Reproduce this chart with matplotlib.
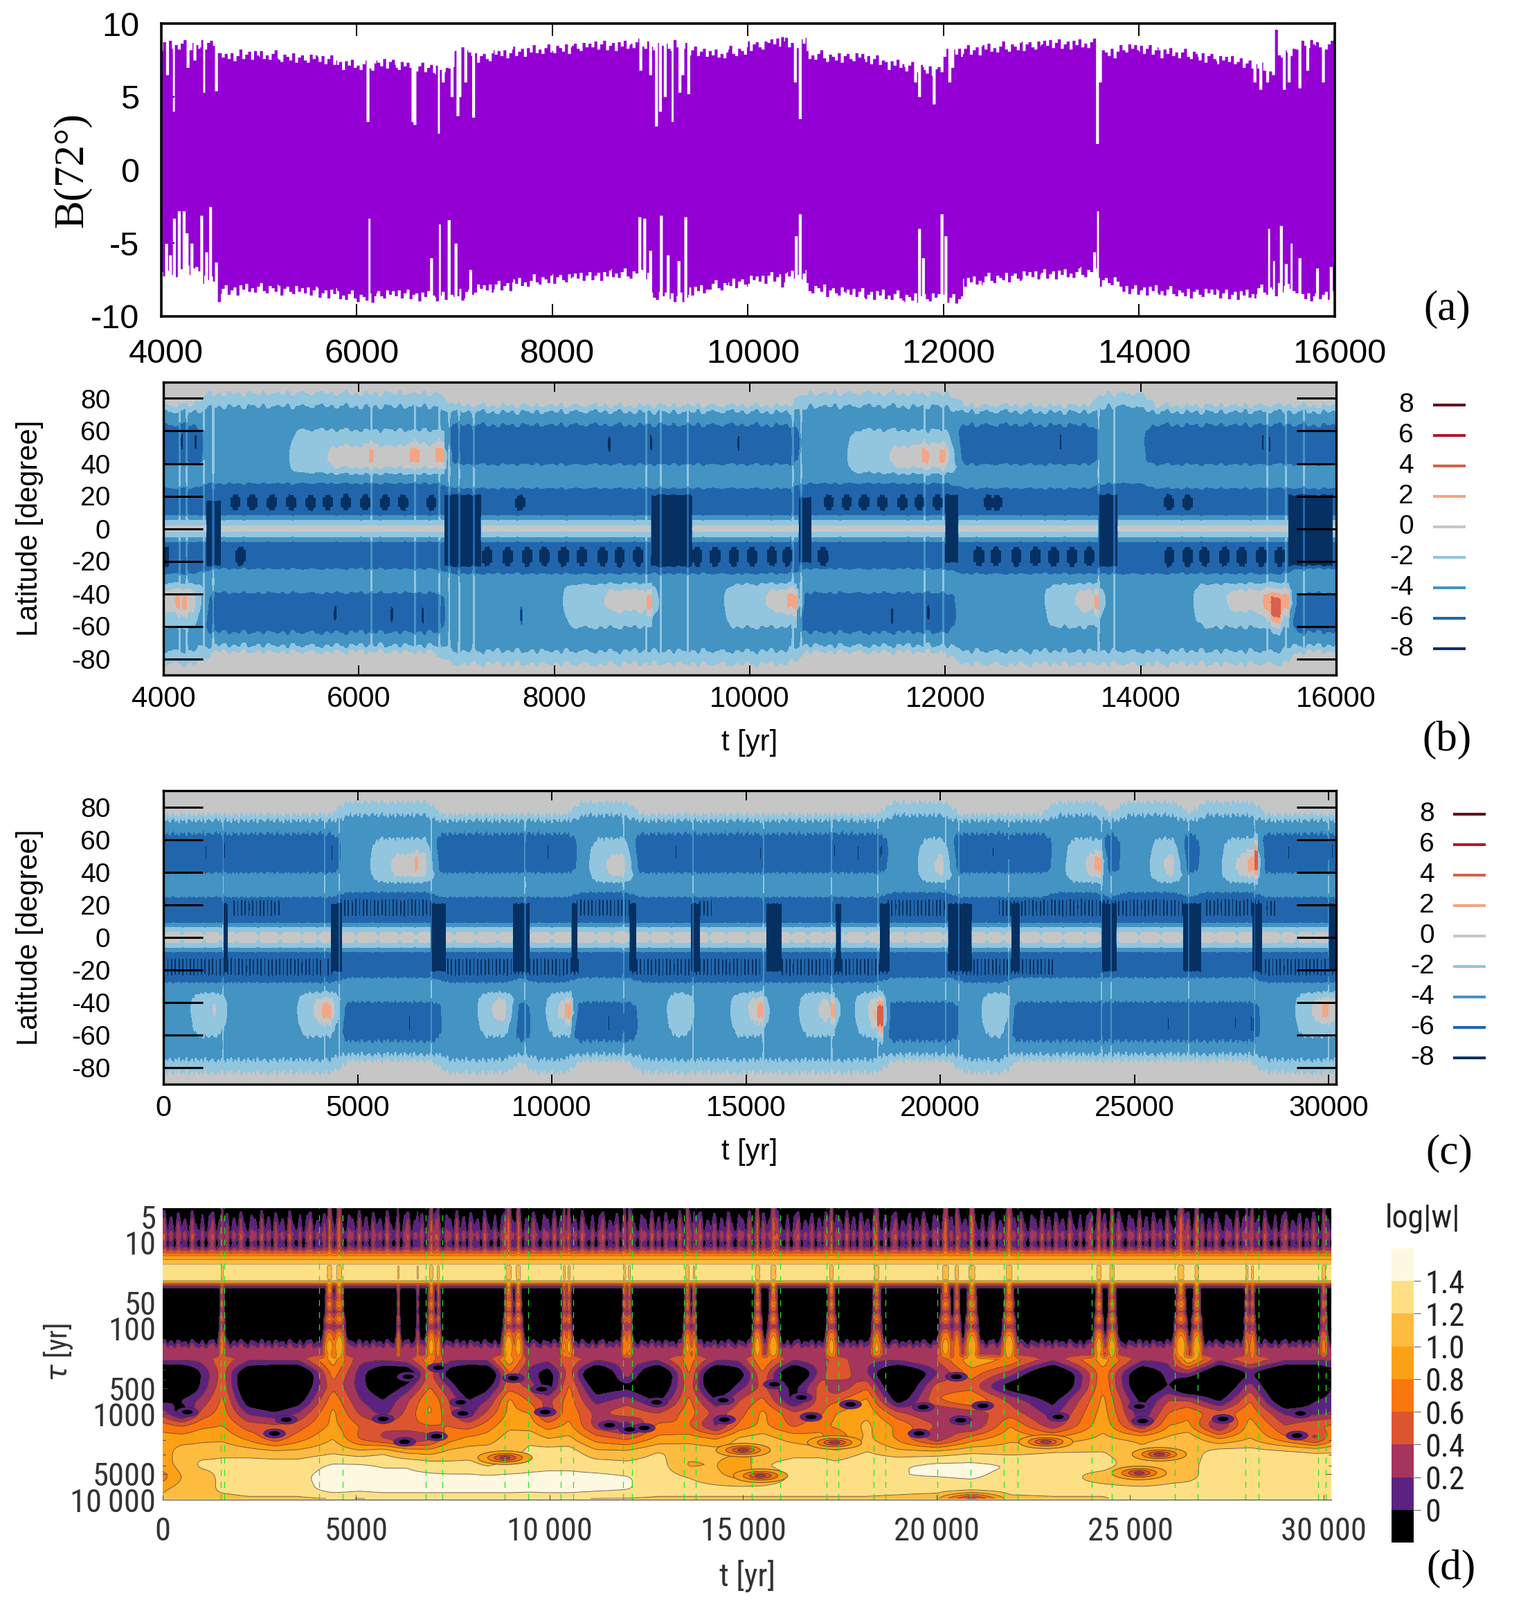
import numpy as np
import matplotlib
matplotlib.use("Agg")
import matplotlib.pyplot as plt
import matplotlib.font_manager as fm
from matplotlib.colors import ListedColormap
from matplotlib.lines import Line2D
from matplotlib.path import Path
from matplotlib.transforms import Affine2D, ScaledTranslation

plt.rcParams['axes.unicode_minus'] = False
W, H = 2197, 2311
SANS = ['Liberation Sans', 'DejaVu Sans']
SERIF = ['Liberation Serif', 'DejaVu Serif']
_installed = {f.name for f in fm.fontManager.ttflist}
_narrow = [n for n in ['Liberation Sans Narrow', 'Roboto Condensed', 'Open Sans Condensed', 'Noto Sans Condensed', 'DejaVu Sans Condensed'] if n in _installed]
NARROW = (_narrow[:1] or []) + SANS
NARROW_SCALE = 1.0 if _narrow else 0.86

# ---------- panel (a) ----------
a_top = [8.5,8.5,8.6,7.7,7.9,7.8,7.7,7.6,7.5,7.2,7.1,7.3,7.1,7.0,6.9,8.0,7.7,7.9,8.1,8.2,8.3,8.4,8.5,8.5,8.6,8.4,8.4,8.1,7.9,8.1,
         8.5,8.7,8.7,7.8,7.7,7.7,7.5,7.2,7.0,6.8,8.0,8.2,8.3,8.4,8.5,8.6,8.6,8.6,8.0,8.3,8.2,8.0,7.9,7.7,7.5,7.3,7.0,8.0,8.6,8.5]
a_bot = [-7,-6.8,-7.5,-8.2,-8.1,-8.1,-8.2,-8.3,-8.4,-8.6,-8.7,-8.5,-8.5,-8.6,-8.7,-8.4,-8.1,-7.9,-7.7,-7.5,-7.4,-7.3,-7.2,-7.1,-7.1,-8.6,-8.7,-8.2,-7.9,-7.7,
         -7.5,-7.3,-7.2,-8.1,-8.3,-8.4,-8.5,-8.6,-8.7,-8.7,-8.8,-7.6,-7.4,-7.3,-7.2,-7.1,-7.1,-7.0,-7.6,-8.2,-8.2,-8.3,-8.4,-8.4,-8.5,-8.5,-8.2,-8.0,-8.7,-8.5]
a_jag = [.25,-.1,.3,-.25,.1,.35,-.3,0,.2,-.35,.25,-.05,.35,-.2,.05,-.25,.15,.4,-.15,-.3,.2,.05,-.2,.3,-.35,.1,.25,-.1,-.25,.3,.0]
a_notch_top_t = [4124,4437,4560,6110,6570,6590,6835,6970,7030,7190,9060,9225,9390,10530,11750,11900,13570,15310,15480,
                 4060,4270,4340,6880,6920,7060,7110,8900,9000,9100,9150,9300,9330,10480,11710,12060,12090,13600,15180,15240,15370,15530,15640,15720,15880]
a_notch_top_v = [4.0,5.3,5.4,3.3,3.3,3.1,2.5,5.0,3.7,3.6,3.0,3.3,5.2,3.5,5.0,4.5,1.8,6.0,5.5,
                 6.5,7.0,7.5,6.0,7.0,5.0,6.0,6.8,6.5,4.0,5.0,5.3,6.5,6.0,6.0,6.0,7.0,6.0,6.0,5.5,6.5,6.0,5.6,6.8,6.0]
a_notch_bot_t = [4130,4180,4230,4310,4360,4410,4500,4560,6125,6845,6940,8890,8940,9110,9360,10530,11750,11980,13575,15325,15450,15555,
                 4050,4090,4260,4460,6760,7010,7160,9000,9180,9290,10490,11790,12020,13540,15380,15500,15640,15820,15960]
a_notch_bot_v = [-3.3,-2.8,-2.8,-5.0,-6.6,-3.1,-2.5,-6.3,-3.3,-3.7,-3.4,-3.2,-3.3,-3.1,-3.2,-3.0,-4.0,-3.0,-2.8,-4.0,-3.8,-5.0,
                 -5.0,-5.8,-4.3,-5.6,-6.0,-5.0,-6.8,-5.5,-5.8,-6.2,-4.5,-6.0,-4.5,-5.6,-6.2,-6.4,-6.0,-6.7,-6.6]
a_spike_t = [4590,7080,10350,15400,9250]
a_spike_top = [8.0,8.4,9.1,9.6,8.9]
a_spike_bot = [-9.0,-8.9,-8.0,-8.6,-9.0]

# ---------- panels (b), (c): hemispheric latitude profiles ----------
lat_h = [0,1.5,3,5,6.5,8,10,12,14,16,18,20,22,25,28,31,35,38,42,46,50,55,60,64,68,72,76,80,84,95]
prof_D  = [-.5,-.9,-2,-3,-4,-5,-6,-6,-6,-6,-6.2,-6.1,-6,-5,-4.3,-4,-4,-4.6,-6,-6.1,-6.3,-6.3,-6,-5,-4,-3,-1,-.6,-.4,-.2]
prof_L0 = [-.5,-.9,-2,-3,-4,-5,-6,-6.2,-6.3,-6.3,-6.4,-6.4,-6.3,-6,-5,-4.2,-4,-4,-4,-4,-4,-4,-4,-4,-4,-3.6,-2.9,-1.6,-.9,-.2]
prof_L1 = [-.5,-.9,-2,-3,-4,-5,-6,-6.2,-6.3,-6.3,-6.4,-6.4,-6.3,-6,-5,-4.2,-2.8,-2.1,-1.8,-1.8,-2,-2.3,-2.9,-4,-4,-3.6,-2.9,-1.6,-.9,-.2]
prof_L2 = [-.5,-.9,-2,-3,-4,-5,-6,-6.2,-6.3,-6.3,-6.4,-6.4,-6.3,-6,-5,-4,-2.6,-.95,-.6,-.6,-.9,-1.9,-2.9,-4,-4,-3.6,-2.9,-1.6,-.9,-.2]
prof_L3 = [-.5,-.9,-2,-3,-4,-5,-6,-6.2,-6.3,-6.3,-6.4,-6.4,-6.3,-6,-5,-4,-2.4,-.5,1.6,2.6,.3,-1.8,-3,-4,-4,-3.6,-2.9,-1.6,-.9,-.2]
prof_L4 = [-.5,-.9,-2,-3,-4,-5,-6,-6.2,-6.3,-6.3,-6.4,-6.4,-6.3,-6,-5,-4,-2,0,3,4.5,4.6,2.2,-1,-3,-4,-3.6,-2.9,-1.6,-.9,-.2]
c_equator = [-.3,-.55,-.8,-2.2,-3.2,-4.4]
c_blob = [0,0,-.1,-.5,0,.05,0,-.45,0,0,-.5,0,.05,-.4,0,0,-.1,-.5]
ripple = [.9,-.3,.5,-.8,.2,1,-.6,.1,-.9,.7,-.2,.4,-1,.6,.3,-.5,.8,-.7,0,.5,-.4,.9,-.9,.2,.6,-.1,-.6,.4]

b_n_start = [4000,4400,5300,5650,6110,6150,6530,6620,6790,6875,10500,11008,11400,11770,11830,11950,12000,12100,13560,14050]
b_n_state = [0,1,2,3,4,3,4,3,4,0,1,2,3,4,3,4,3,0,1,0]
b_s_start = [4000,4130,4170,4200,4240,4400,6875,8100,8480,8950,9000,9750,10130,10390,10480,12100,13030,13300,13530,13570,14550,14850,15260,15340,15430,15520]
b_s_state = [3,4,3,4,3,0,1,2,3,4,1,2,3,4,0,1,2,3,4,1,2,3,4,5,4,0]
b_n_beads = [4736,4910,5110,5308,5507,5682,5866,6065,6269,6453,6741,10809,10992,11170,11358,11563,11736,11924,12445,12530,7650,14290,14480]
b_s_beads = [4790,7313,7522,7721,7896,8095,8284,8493,8667,8856,9463,9645,9838,10022,10227,10388,10750,12345,12517,12728,12921,13110,13299,13472,14291,14480,14652,14857,15035,15235,15423]
b_beads_w = 55
b_columns_t0 = [4000,4440,6875,8990,10496,12000,13563,15510]
b_columns_t1 = [4060,4590,7250,9413,10631,12135,13767,15968]
b_columns_lo = [-22,-22,-22,-22,-20,-20,-22,-22]
b_columns_hi = [-12,16,20,20,18,20,20,20]
b_streak_t = [4164,4239,4413,4512,6130,6577,6826,6925,7025,7174,8940,9090,9363,10442,10523,11790,11978,13568,13730,15295,15483,15670]
b_spot_n = [4190,4330,8562,8990,9885,13180,15250,15320]
b_spot_s = [5756,6338,6652,7662,11457,11828]

c_n_start = [0,4550,5360,5800,6480,6560,6950,10630,11000,11350,12070,18640,19450,19800,20270,22850,23260,23700,23980,24150,24620,25430,25700,26200,26660,27280,27550,27950,28100,28170]
c_n_state = [0,1,2,3,4,3,0,1,2,3,0,1,2,3,0,1,2,3,4,0,1,2,3,0,1,2,3,4,5,0]
c_s_start = [0,730,1200,1540,3480,3800,4100,4300,4530,7150,8120,8400,9000,9440,9880,10200,10350,10500,12190,13000,13300,13570,14630,15000,15300,15450,16400,16800,17200,17280,17830,18100,18380,18530,20480,21090,21500,21770,28220,29170,29500,29850,30000]
c_s_state = [1,2,3,1,2,3,4,3,0,1,2,3,0,1,2,3,4,0,1,2,3,1,2,3,4,1,2,3,4,1,2,3,5,0,1,2,3,0,1,2,3,4,3]
c_n_train0 = [1800,4550,10630,13800,18640,21500,24200,26840,28400]
c_n_train1 = [3050,6930,12070,14200,20130,24200,26250,28250,28700]
c_s_train0 = [0,7300,12070,15920,20270,22100,28250]
c_s_train1 = [4400,10700,15430,18640,22040,22990,30200]
c_tooth = 48
c_columns_t0 = [1540,4300,6870,9000,10500,12000,13570,15516,17310,18440,20200,21830,24140,26250,28040,30000]
c_columns_t1 = [1670,4610,7280,9440,10670,12190,13820,15924,17450,18710,20820,22060,24550,26730,28290,30200]
c_columns_lo = [-20]*16
c_columns_hi = [20]*16
c_streak_t = [1540,4150,4525,6900,9310,11850,13635,15450,17210,18400,20140,20480,21770,24160,24400,26400,28100,30000]
c_spot_n = [1100,1580,3920,4340,8560,9000,9900,13200,15380,15420,17280,17080,17890,18450,18500,21360,21770,28980,30000,30100]
c_spot_s = [5760,6340,6680,11470,11850,25870,27600,28010,28070]

field_levels = [-9,-7,-5,-3,-1,1,3,5,7,9]
field_colors = ['#053061','#2166ac','#4393c3','#92c5de','#c6c6c6','#f4a582','#d6604d','#b2182b','#67001f']
legend_values = ['8','6','4','2','0','-2','-4','-6','-8']
lat_ticks = [80,60,40,20,0,-20,-40,-60,-80]

# ---------- panel (d) ----------
tau_top = [3.92,4.6,5.3,6.1,7,8,9,10,11,12,12.8,13.5,14.5,15.8,17,18.2,19.5,22,25,27.6,28.6,29.6,30.8,32,33.5,36,44,52,64,78,95,115,135,153,175,200,232]
wave_quiet = [-.3,-.2,-.05,.05,.1,.25,.2,.05,.1,.3,.5,.65,.85,1.0,1.15,1.22,1.3,1.38,1.3,1.22,1.0,.85,.5,.2,.02,-.2,-.4,-.4,-.4,-.4,-.4,-.4,-.1,.1,.3,.33,.05]
wave_amp = [.2,.3,.28,.22,.18,.18,.25,.25,.2,.12,.05]+[0]*21+[.1,.15,.06,0,0]
wave_plume = [.3,.4,.5,.6,.6,.5,.65,.5,.65,.7,.9,.9,.9,1,1.05,1.05,0,0,0,0,1,1,1,.9,.8,.9,.45,.85,.4,.8,.3,.75,.9,1,1,.9,0]
wave_spread = [.5]*20+[.8]*6+[1,1,1,1.2,1.3,1.4,1.5,1.6,1.7,1.7,1.7]
wave_comb = [1,-.6,.4,-1,.8,-.3,.2,-.9,1,-.2,-.7,.6,-1,.5,.9,-.8,.1,-.4,.7,-1,.3,-.5,.9,-.1,-.9,.6,.2,-.7]
plume_taper = [1.0,.85,.6,.25]
event_t = [1537,4310,4560,6090,6590,6940,7125,8940,9190,10375,10500,11940,12060,13560,13730,15370,15780,17280,18450,20230,20520,20910,21870,24190,24530,26310,26720,28020,28160,30000]
event_w = [70,130,140,50,40,110,60,130,110,70,80,70,70,100,60,110,130,120,120,150,100,150,150,110,120,150,120,70,80,90]
event_s = [.7,.9,1,.7,.5,.9,.8,1,.95,.85,.9,.8,.85,.85,.8,.95,1,.9,.85,.9,.8,1,1,.95,.95,1,1,.7,.8,.7]
tau_low = [232,330,465,665,940,1330,1880,2660,3770,5330,7540,9700]
t_low = [0,500,1000,1550,2200,2900,3500,4400,5100,5700,6300,6900,7400,7900,8400,8950,9500,9950,10500,11200,12000,12800,13600,14300,14900,15500,16300,17000,17400,18200,19000,20000,20900,21900,23000,24300,25300,26000,26500,27300,28100,29000,29800,30200]
wave_low = [
 [-.2,-.3,-.3,-.05,.3,.7,.9,.9,.9,.7,1.0,1.0],
 [.05,-.3,-.3,.05,-.1,.6,.9,1.1,1.1,1.0,1.1,1.0],
 [.15,0,.05,.25,.45,.75,.95,1.1,1.25,1.1,1.1,1.15],
 [.55,.5,.55,.65,.7,.8,.95,1.15,1.25,1.25,1.25,1.1],
 [-.05,-.2,-.2,-.1,.15,.5,.75,1.1,1.3,1.3,1.3,1.15],
 [0,-.3,-.3,-.2,0,.45,.45,1.05,1.3,1.3,1.3,1.15],
 [.05,-.3,-.2,-.1,.2,.5,.7,1.05,1.3,1.35,1.3,1.15],
 [.9,.7,.55,.75,.85,.85,1.0,1.15,1.42,1.5,1.5,1.25],
 [0,.1,.1,.2,.35,.6,.55,1.05,1.42,1.5,1.45,1.2],
 [-.05,-.2,-.15,0,.1,.45,.35,1.15,1.38,1.45,1.5,1.25],
 [.3,-.2,.05,.35,.45,.55,.15,.95,1.38,1.45,1.5,1.25],
 [.75,.5,.6,.8,.85,.6,.3,.9,1.3,1.45,1.5,1.25],
 [0,-.1,.2,.4,.45,.6,.7,1.05,1.25,1.45,1.5,1.25],
 [0,-.3,-.2,0,.05,.5,.85,1.1,1.25,1.45,1.5,1.25],
 [0,-.25,-.05,.2,.45,.7,.9,1.1,1.15,1.45,1.5,1.2],
 [.95,.6,.5,.85,.85,.95,1.1,1.1,1.25,1.45,1.5,1.2],
 [.3,.1,.35,.55,.8,.9,1.15,1.25,1.32,1.45,1.48,1.2],
 [.2,-.1,-.1,.35,.25,.7,1.0,1.3,1.35,1.45,1.5,1.2],
 [.55,.5,.65,.7,.75,.85,1.05,1.3,1.35,1.45,1.5,1.2],
 [.05,-.3,-.1,.1,.35,.3,.7,1.05,1.3,1.45,1.45,1.2],
 [.3,.35,-.05,.3,.55,.05,.55,1.05,1.25,1.42,1.42,1.2],
 [0,-.3,-.2,-.05,.4,.65,.85,1.2,1.3,1.3,1.3,1.2],
 [.7,.65,.55,.65,.7,.6,.9,1.15,.95,1.2,1.3,1.2],
 [.05,-.3,-.25,0,.35,.1,.8,1.1,1.0,1.05,1.3,1.2],
 [.15,-.1,.1,.4,.5,.65,1.05,1.05,.8,.95,1.3,1.2],
 [.8,.6,.45,.65,.85,.85,1.1,.95,1.2,1.0,1.3,1.25],
 [0,-.3,-.05,-.05,.45,.55,.95,1.1,1.3,1.25,1.3,1.25],
 [.3,.3,.5,.5,.55,.75,.85,1.1,1.3,1.3,1.3,1.2],
 [.5,.6,.2,.55,.8,.85,.6,1.05,1.25,1.35,1.3,1.2],
 [.1,.2,.55,.85,.95,1.05,1.05,1.2,1.35,1.3,1.3,1.15],
 [.1,-.3,-.25,-.1,.45,.75,.75,1.05,1.38,1.4,1.3,1.1],
 [.4,.15,.5,.6,.15,.4,.2,1.05,1.45,1.4,1.3,1.0],
 [.95,.7,.5,.85,.3,.15,.7,1.15,1.45,1.42,1.3,.1],
 [.75,.3,-.1,.35,.5,.8,.95,1.12,1.4,1.35,1.3,1.1],
 [-.05,-.3,-.3,-.05,.1,.25,.85,1.2,1.3,1.3,1.3,1.2],
 [.9,.75,.8,.85,.9,.95,1.05,1.2,1.3,1.1,1.3,1.3],
 [0,-.2,-.2,-.05,0,.2,.95,1.05,1.05,.95,1.3,1.35],
 [.05,.1,0,.4,.6,.8,1.05,1.1,1.1,1.1,1.3,1.3],
 [1.0,.2,-.3,.4,.75,.85,1.15,1.1,1.15,1.15,1.3,1.35],
 [-.05,-.3,-.2,-.05,.5,.1,.8,1.3,1.3,1.3,1.3,1.3],
 [.6,0,.3,.6,.75,.9,1.0,1.28,1.3,1.3,1.3,1.3],
 [0,-.3,-.3,-.2,.15,.4,.65,1.25,1.3,1.3,1.3,1.3],
 [.05,-.3,-.3,0,.1,.6,.3,1.2,1.3,1.3,1.3,1.3],
 [0,-.1,0,.1,.2,.65,.7,1.2,1.3,1.3,1.3,1.3],
]
hole_t = [625,3190,2875,5690,6250,7060,7750,7690,9060,9790,9875,11540,12060,12440,12750,14500,14475,6340,7125,16740,16500,17760,15800,19640,21180,20610,19540,20500,23130,25220,25310,27380,29390,29300]
hole_tau = [945,1150,1670,1130,2100,1810,985,720,375,510,945,1330,1490,1450,720,1160,680,365,285,1080,640,765,450,830,790,1170,1670,365,1070,805,1200,1130,985,1760]
lens_t = [8840,15000,15440,17350,22800,25740,25220]
lens_tau = [3210,2640,5200,2150,2080,2940,4880]
green_t = [1500,1600,4040,4650,6790,7225,8840,9450,10290,10610,11890,12125,13475,13775,15230,15960,17150,17460,18380,18670,20020,20870,21730,22100,24010,24530,26150,26750,27980,28310,29850,30050]
wave_levels = [-2,0,.2,.4,.6,.8,1.0,1.2,1.4,2]
wave_colors = ['#000000','#5c2280','#a5355c','#dd5530','#fa760f','#fca015','#fdbb40','#fde085','#fff8e0']
wave_labels = ['0','0.2','0.4','0.6','0.8','1.0','1.2','1.4']
bar_edges = [-.2,0,.2,.4,.6,.8,1.0,1.2,1.4,1.6]
tau_ticks = [5,10,50,100,500,1000,5000,10000]
tau_labels = ['5','10','50','100','500','1000','5000','10\u2009000']
d_xticks = [0,5000,10000,15000,20000,25000,30000]
d_xlabels = ['0','5000','10\u2009000','15\u2009000','20\u2009000','25\u2009000','30\u2009000']


def add_ax(fig, l, t, r, b):
    return fig.add_axes([l/W, 1-b/H, (r-l)/W, (b-t)/H])


def px_text(fig, x, y, s, **kw):
    kw.setdefault('ha', 'center')
    kw.setdefault('va', 'center')
    fig.text(x/W, 1-y/H, s, **kw)


def smooth_cols(Z, win):
    kernel = np.ones(win)/win
    pad = np.pad(Z, ((0, 0), (win, win)), mode='edge')
    out = np.apply_along_axis(lambda v: np.convolve(v, kernel, mode='same'), 1, pad)
    return out[:, win:-win]


def hemi(T, starts, states, profs, win):
    st = np.array(states)[np.searchsorted(starts, T, side='right')-1]
    raw = profs[st].T
    sm = smooth_cols(raw, win)
    hot = st >= 4
    sm[:, hot] = np.maximum(sm[:, hot], raw[:, hot])
    return sm


def build_field(T, n_start, n_state, s_start, s_state, win, equator=None):
    profs = np.array([prof_D, prof_L0, prof_L1, prof_L2, prof_L3, prof_L4], float)
    if equator is not None:
        profs[:, :len(equator)] = equator
    return np.array(lat_h, float), hemi(T, n_start, n_state, profs, win), hemi(T, s_start, s_state, profs, win)


def stamp(Z, lats, T, t0, t1, lo, hi, value):
    cols = (T >= t0) & (T <= t1)
    rows = (lats >= lo) & (lats <= hi)
    Z[np.ix_(rows, cols)] = value


def draw_field(ax, T, lh, n, s, beads_n, beads_s, bead_w, trains_n, trains_s, tooth,
               col_t0, col_t1, col_lo, col_hi, streaks, streak_w, streak_amp, spots_n, spots_s, rip_bin, blob=None):
    for t in beads_n:
        stamp(n, lh, T, t-bead_w, t+bead_w, 13.9, 18.1, -8)
        stamp(n, lh, T, t-bead_w*.55, t+bead_w*.55, 11.9, 20.1, -8)
    for t in beads_s:
        stamp(s, lh, T, t-bead_w, t+bead_w, 13.9, 20.1, -8)
        stamp(s, lh, T, t-bead_w*.55, t+bead_w*.55, 11.9, 22.1, -8)
    for (t0s, t1s, arr) in (trains_n + (n,), trains_s + (s,)):
        for t0, t1 in zip(t0s, t1s):
            on = (T >= t0) & (T <= t1) & (((T-t0)//tooth) % 2 == 0)
            rows = (lh >= 13.9) & (lh <= 22.1)
            arr[np.ix_(rows, on)] = -8
    for t in spots_n:
        stamp(n, lh, T, t-14, t+14, 49, 56, -8)
    for t in spots_s:
        stamp(s, lh, T, t-14, t+14, 49, 56, -8)
    if blob is not None:
        pinch = np.array(blob)[((T//140).astype(int)) % len(blob)]
        pinch = smooth_cols(pinch[None, :], 9)[0]
        for arr in (n, s):
            rows = lh <= 5.1
            arr[rows] = arr[rows] + pinch
    lats = np.r_[-lh[::-1], lh[1:]]
    Z = np.vstack([s[::-1], n[1:]])
    for a, b, lo, hi in zip(col_t0, col_t1, col_lo, col_hi):
        stamp(Z, lats, T, a, b, lo, hi, -8)
    for t in streaks:
        cols = np.abs(T-t) <= streak_w
        block = Z[:, cols]
        Z[:, cols] = np.where(block < -1, np.minimum(block+streak_amp, -1.2), block)
    r = np.array(ripple, float)[((T//rip_bin).astype(int)) % len(ripple)]
    r = smooth_cols(r[None, :], max(3, int(rip_bin/(T[1]-T[0])/2)))[0]
    Y = lats[:, None]*(1+0.024*r[None, :])
    X = np.broadcast_to(T[None, :], Z.shape)
    ax.contourf(X, Y, Z, levels=field_levels, colors=field_colors, antialiased=False)


def style_field(ax, xlim, xticks):
    ax.set_xlim(*xlim)
    ax.set_ylim(-90, 90)
    ax.set_yticks(lat_ticks)
    ax.set_xticks(xticks)
    ax.tick_params(axis='y', direction='in', length=41, width=2.2, left=True, right=True, pad=55, labelsize=28)
    ax.tick_params(axis='x', direction='in', length=10, width=1.4, top=True, bottom=True, pad=11, labelsize=30)
    for sp in ax.spines.values():
        sp.set_linewidth(2.4)
        sp.set_zorder(6)
    for lab in ax.get_xticklabels()+ax.get_yticklabels():
        lab.set_family(SANS)


def legend_col(fig, x_lab, x0, x1, y0):
    for i, (lab, col) in enumerate(zip(legend_values, field_colors[::-1])):
        y = y0+i*44
        px_text(fig, x_lab, y, lab, ha='right', fontsize=28, family=SANS)
        fig.add_artist(Line2D([x0/W, x1/W], [1-y/H, 1-y/H], color=col, lw=2.9, solid_capstyle='butt'))


fig = plt.figure(figsize=(W/100, H/100), dpi=100, facecolor='white')

# ---- (a)
ax = add_ax(fig, 233, 34, 1928, 457)
ta = np.arange(4000, 16001, 10)
idx = np.clip((ta-4000)//200, 0, len(a_top)-1)
jag = np.array(a_jag)[(ta//30) % len(a_jag)]
jag2 = np.array(a_jag)[((ta+150)//30) % len(a_jag)]
top = np.array(a_top)[idx]+jag
bot = np.array(a_bot)[idx]+jag2
for t, v in zip(a_notch_top_t, a_notch_top_v):
    top[np.abs(ta-t) <= 10] = v
for t, v in zip(a_notch_bot_t, a_notch_bot_v):
    bot[np.abs(ta-t) <= 10] = v
for t, u, v in zip(a_spike_t, a_spike_top, a_spike_bot):
    top[np.abs(ta-t) <= 10] = u
    bot[np.abs(ta-t) <= 10] = v
ax.fill_between(ta, bot, top, step='mid', color='#9400d3', lw=0, zorder=3)
ax.set_xlim(4000, 16000)
ax.set_ylim(-10, 10)
ax.set_xticks(range(4000, 16001, 2000))
ax.set_yticks([-10, -5, 0, 5, 10])
ax.tick_params(axis='x', direction='in', length=13, width=1.4, top=True, pad=23, labelsize=35)
ax.tick_params(axis='y', direction='in', length=14, width=1.4, right=True, pad=23, labelsize=35)
for sp in ax.spines.values():
    sp.set_linewidth(2.6)
    sp.set_zorder(6)
for lab in ax.get_xticklabels()+ax.get_yticklabels():
    lab.set_family(SANS)
for lab in ax.get_xticklabels():
    lab.set_transform(lab.get_transform()+ScaledTranslation(7/100, 0, fig.dpi_scale_trans))
px_text(fig, 104, 246, 'B(72°)', rotation=90, fontsize=44, family=SERIF)
px_text(fig, 2090, 447, '(a)', fontsize=44, family=SERIF)

# ---- (b)
ax = add_ax(fig, 236, 552, 1930, 975)
Tb = np.arange(4000, 16001, 5.0)
lh, n, s = build_field(Tb, b_n_start, b_n_state, b_s_start, b_s_state, 40)
draw_field(ax, Tb, lh, n, s, b_n_beads, b_s_beads, b_beads_w, ([], []), ([], []), 48,
           b_columns_t0, b_columns_t1, b_columns_lo, b_columns_hi, b_streak_t, 7, 1.8,
           b_spot_n, b_spot_s, 50)
style_field(ax, (4000, 16000), list(range(4000, 16001, 2000)))
px_text(fig, 43, 763, 'Latitude [degree]', rotation=90, fontsize=30, family=SANS)
px_text(fig, 1083, 1073, 't [yr]', fontsize=30, family=SANS)
px_text(fig, 2090, 1069, '(b)', fontsize=44, family=SERIF)
legend_col(fig, 2042, 2070, 2117, 585)

# ---- (c)
ax = add_ax(fig, 236, 1142, 1930, 1566)
Tc = np.arange(0, 30201, 8.0)
lh, n, s = build_field(Tc, c_n_start, c_n_state, c_s_start, c_s_state, 55, c_equator)
draw_field(ax, Tc, lh, n, s, [], [], 40, (c_n_train0, c_n_train1), (c_s_train0, c_s_train1), c_tooth,
           c_columns_t0, c_columns_t1, c_columns_lo, c_columns_hi, c_streak_t, 10, 1.5,
           c_spot_n, c_spot_s, 48, c_blob)
style_field(ax, (0, 30196), [0, 5000, 10000, 15000, 20000, 25000, 30000])
px_text(fig, 43, 1354, 'Latitude [degree]', rotation=90, fontsize=30, family=SANS)
px_text(fig, 1083, 1664, 't [yr]', fontsize=30, family=SANS)
px_text(fig, 2093, 1666, '(c)', fontsize=44, family=SERIF)
legend_col(fig, 2072, 2099, 2146, 1176)

# ---- (d)
ax = add_ax(fig, 235, 1744.5, 1923, 2166)
Td = np.arange(0, 30201, 20.0)
low = np.array(wave_low, float).T
low[0] = np.maximum(low[0], .24)
low[-1] = np.where(np.array(t_low) < 24500, np.minimum(low[-1], 1.15), low[-1])
low = np.where(low < 0, low*2, low)
low_t = smooth_cols(np.array([np.interp(Td, t_low, row) for row in low]), 7)
log_low = np.log10(tau_low)
log_fine = np.linspace(log_low[0], log_low[-1], 70)
low_f = np.array([np.interp(log_fine, log_low, low_t[:, j]) for j in range(low_t.shape[1])])
low_f = smooth_cols(low_f, 4).T
ax.contourf(Td, 10**log_fine, low_f, levels=wave_levels, colors=wave_colors, zorder=1)
ax.contour(Td, 10**log_fine, low_f, levels=wave_levels[1:-1], colors='#4a3528', linewidths=.7, alpha=.75, zorder=2)

Zd = np.array(wave_quiet)[:, None] + np.array(wave_amp)[:, None]*np.array(wave_comb)[((Td//90).astype(int)) % len(wave_comb)][None, :]
plume = np.array(wave_plume)
spread = np.array(wave_spread)
taper = np.array(plume_taper)
band_rows = (np.array(tau_top) >= 19) & (np.array(tau_top) <= 26)
for t, w, st in zip(event_t, event_w, event_s):
    dt = np.abs(Td-t)
    for r in range(len(tau_top)):
        wr = w*spread[r]
        cols = np.where(dt < wr)[0]
        if len(cols):
            tp = taper[(dt[cols]/wr*4).astype(int)]
            Zd[r, cols] = np.maximum(Zd[r, cols], st*plume[r]*tp)
    core = np.where(dt < .5*w)[0]
    Zd[np.ix_(band_rows, core)] = np.minimum(Zd[np.ix_(band_rows, core)], 1.1)
Zd = smooth_cols(Zd, 3)
Zd[-1] = low_t[0]
ax.contourf(Td, tau_top, Zd, levels=wave_levels, colors=wave_colors, zorder=3)
ax.contour(Td, tau_top, Zd, levels=wave_levels[1:-1], colors='#4a3528', linewidths=.5, alpha=.7, zorder=4)

ell = Path.unit_circle().transformed(Affine2D().scale(2.4, 1))
ax.scatter(hole_t, hole_tau, s=520, marker=ell, color=wave_colors[1], edgecolors='#3a2a30', linewidths=.5, zorder=5)
ax.scatter(hole_t, hole_tau, s=130, marker=ell, color=wave_colors[0], linewidths=0, zorder=6)
lens_marker = Path.unit_circle().transformed(Affine2D().scale(4, 1))
for size, col in zip([3200, 1300, 500, 120], [wave_colors[5], wave_colors[4], wave_colors[3], wave_colors[2]]):
    ax.scatter(lens_t, lens_tau, s=size, marker=lens_marker, color=col, edgecolors='#4a3528', linewidths=.6, zorder=5)
for t in green_t:
    ax.axvline(t, color='#1fe81f', lw=.9, ls=(0, (7, 7)), zorder=7)
ax.set_yscale('log')
ax.set_xlim(0, 30197)
ax.set_ylim(9590, 3.92)
ax.set_xticks(d_xticks)
ax.set_xticklabels(d_xlabels)
ax.set_yticks(tau_ticks)
ax.set_yticklabels(tau_labels)
ax.set_yticks([20, 30, 40, 200, 300, 400, 2000, 3000, 4000], minor=True)
ax.set_yticklabels([], minor=True)
nfs = 33.5*NARROW_SCALE
ax.tick_params(axis='y', which='minor', direction='in', length=3, width=.7, color='#444444', right=True)
ax.tick_params(axis='y', which='major', direction='in', length=5, width=.7, color='#444444', right=True, pad=7, labelsize=nfs, labelcolor='#333333')
ax.tick_params(axis='x', direction='in', length=5, width=.7, color='#444444', pad=17, labelsize=nfs, labelcolor='#333333')
for name, sp in ax.spines.items():
    sp.set_linewidth(.8)
    sp.set_color('#333333')
    sp.set_visible(name == 'bottom')
    sp.set_zorder(8)
for lab in ax.get_xticklabels()+ax.get_yticklabels():
    lab.set_family(NARROW)
px_text(fig, 84, 1954, r'$\tau$ [yr]', rotation=90, fontsize=30*NARROW_SCALE, family=NARROW, color='#333333')
px_text(fig, 1080, 2276, 't [yr]', fontsize=nfs, family=NARROW, color='#333333')
px_text(fig, 2096, 2266, '(d)', fontsize=44, family=SERIF)
px_text(fig, 2055, 1760, 'log|w|', fontsize=33*NARROW_SCALE, family=NARROW, color='#222222')

cax = add_ax(fig, 2010, 1803, 2042, 2228)
cax.pcolormesh([0, 1], bar_edges, np.arange(9)[:, None], cmap=ListedColormap(wave_colors), vmin=-.5, vmax=8.5)
cax.set_xlim(0, 1)
cax.set_ylim(-.2, 1.6)
cax.set_xticks([])
cax.yaxis.tick_right()
cax.set_yticks([0, .2, .4, .6, .8, 1.0, 1.2, 1.4])
cax.set_yticklabels(wave_labels)
cax.tick_params(axis='y', direction='out', length=7, width=.8, color='#666666', pad=5, labelsize=33*NARROW_SCALE, labelcolor='#222222')
for lab in cax.get_yticklabels():
    lab.set_family(NARROW)
for sp in cax.spines.values():
    sp.set_visible(False)

fig.savefig('out.png', dpi=100)
